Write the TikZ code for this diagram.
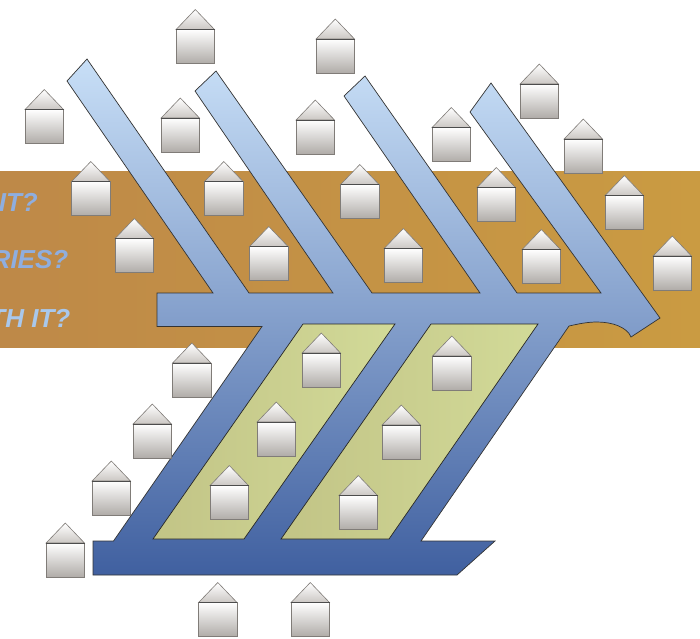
\documentclass[tikz,border=0pt]{standalone}
\usepackage{fontspec}
\setmainfont{Liberation Sans}
\definecolor{bandL}{HTML}{BE8948}
\definecolor{bandR}{HTML}{CA9B42}
\definecolor{fishT}{HTML}{C8DFF7}
\definecolor{fishM}{HTML}{7F9CCB}
\definecolor{fishB}{HTML}{4060A0}
\definecolor{greenL}{HTML}{C2C486}
\definecolor{greenR}{HTML}{D2DA98}
\definecolor{lblA}{HTML}{8FAEDF}
\definecolor{lblB}{HTML}{A9C8EC}
\definecolor{houseT}{HTML}{FFFFFF}
\definecolor{houseB}{HTML}{B0ACA8}
\definecolor{roofB}{HTML}{CBC7C3}
\definecolor{houseE}{HTML}{807C78}
\tikzset{
  band/.style={left color=bandL,right color=bandR,draw=none},
  fish/.style={top color=fishT,middle color=fishM,bottom color=fishB,draw=black!80,line width=0.7pt,line join=miter},
  pane/.style={left color=greenL,right color=greenR,draw=black!85,line width=0.7pt},
  lbl/.style={font=\bfseries\itshape\fontsize{26}{26}\selectfont,anchor=base east,inner sep=0pt},
  hbody/.style={top color=houseT,bottom color=houseB,draw=houseE,line width=0.8pt},
  hroof/.style={top color=houseT,bottom color=roofB,draw=houseE,line width=0.6pt,line join=miter},
  hline/.style={draw=black!70,line width=0.7pt}
}
\newcommand{\myhouse}[2]{%
  \path[hroof] (#1-19.2,#2+20) -- (#1,#2) -- (#1+19.2,#2+20) -- cycle;
  \path[hbody] (#1-19.2,#2+20) rectangle (#1+19.2,#2+54);
  \path[hline] (#1-19.2,#2+20) -- (#1+19.2,#2+20);
}
\begin{document}
\begin{tikzpicture}[x=1pt,y=-1pt]
\useasboundingbox (0,0) rectangle (700,638);
\path[band] (0,171) rectangle (700,347.5);
\begin{scope}
\clip (0,0) rectangle (700,638);
\node[lbl,text=lblA] (t1) at (38,211) {IT?};
\node[lbl,text=lblA] (t2) at (68.5,268.5) {RIES?};
\node[lbl,text=lblB] (t3) at (70.5,327) {TH IT?};
\end{scope}
\path[fish] (67,81) -- (87,59) -- (249,293) -- (333,293) -- (195,91) -- (216,71)
  -- (372,293) -- (480,293) -- (344,96) -- (365,76) -- (517,293) -- (601,293)
  -- (470,112) -- (491,83) -- (660,318) -- (631,337)
  .. controls (627,327) and (612,322) .. (597,322)
  .. controls (587,322) and (578,324) .. (569,326)
  -- (421,541) -- (495,541) -- (457,575) -- (93,575) -- (93,541) -- (113.5,541)
  -- (262,326.5) -- (157,326.5) -- (157,293) -- (213,293) -- cycle;
\path[pane] (303,324) -- (395,324) -- (244,539) -- (153,539) -- cycle;
\path[pane] (431,324) -- (538,324) -- (389,539) -- (281,539) -- cycle;
\foreach \hx/\hy in {195.3/9.5,335.3/19,44.3/89.5,180.3/98,315.3/100,539.3/64,451.3/107.5,583.3/119,
  90.8/161.5,223.8/161.5,359.8/164.5,496.3/167.5,624.3/175.5,134.3/218.5,268.8/226.5,403.3/228.5,
  541.3/229.5,672.3/236,321.3/333,451.8/336,191.8/343,276.3/402,401.3/405,152.3/404,111.3/461,229.3/465.5,
  358.3/475.5,65.3/523,217.8/582.5,310.3/582.5}{
  \myhouse{\hx}{\hy}
}
\end{tikzpicture}
\end{document}
